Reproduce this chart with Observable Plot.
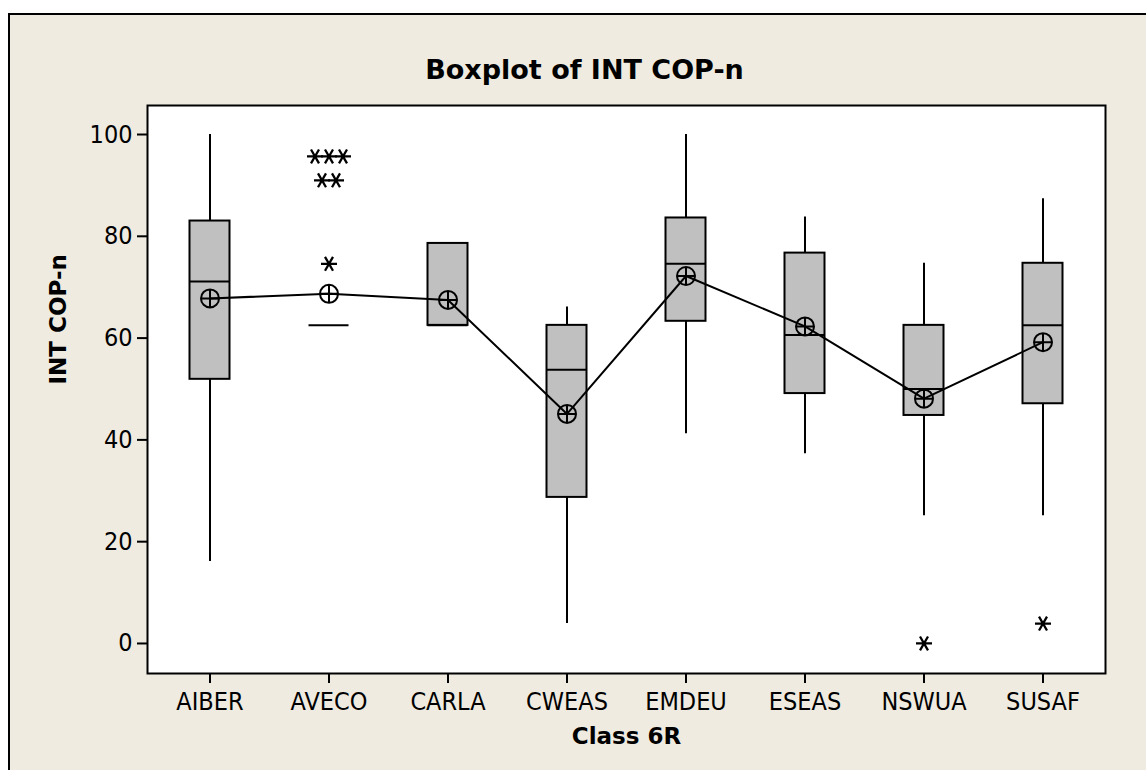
<!DOCTYPE html>
<html>
<head>
<meta charset="utf-8">
<script src="https://cdn.jsdelivr.net/npm/d3@7"></script>
<script src="https://cdn.jsdelivr.net/npm/@observablehq/plot@0.6"></script>
<style>
  html, body { margin: 0; padding: 0; width: 1146px; height: 770px; overflow: hidden; background: #ffffff; }
  #sheet {
    position: absolute; left: 8px; top: 13px; width: 1138px; height: 757px;
    box-sizing: border-box; background: #efebe1;
    border-left: 2px solid #000; border-top: 2px solid #000;
  }
  #chart { position: absolute; left: 0; top: 0; }
</style>
</head>
<body>
<div id="sheet"></div>
<div id="chart"></div>
<script>
// Five-number summaries and means of INT COP-n for each Class 6R group
const classes     = ["AIBER", "AVECO", "CARLA", "CWEAS", "EMDEU", "ESEAS", "NSWUA", "SUSAF"];
const whiskerLow  = [16.1, 62.5, 62.5,  3.9, 41.2, 37.3, 25.1, 25.1];
const q1          = [51.9, 62.5, 62.5, 28.7, 63.3, 49.1, 44.8, 47.1];
const medians     = [71.1, 62.5, 62.5, 53.8, 74.6, 60.6, 50.0, 62.5];
const q3          = [83.0, 62.5, 78.6, 62.5, 83.6, 76.7, 62.5, 74.7];
const whiskerHigh = [100,  62.5, 78.6, 66.1, 100,  83.8, 74.7, 87.4];
const means       = [67.8, 68.7, 67.5, 45.1, 72.2, 62.3, 48.1, 59.2];

// Outlying observations (one entry per observation)
const outlierClass = ["AVECO", "AVECO", "AVECO", "AVECO", "AVECO", "AVECO", "NSWUA", "SUSAF"];
const outlierValue = [95.7, 95.7, 95.7, 91.0, 91.0, 74.6, 0, 3.9];

const yTicks = [0, 20, 40, 60, 80, 100];

const summary = classes.map((c, i) => ({
  cls: c, lo: whiskerLow[i], q1: q1[i], med: medians[i], q3: q3[i], hi: whiskerHigh[i], mean: means[i]
}));

// Tied outliers are spread sideways so each one stays visible
const outliers = outlierClass.map((c, i) => ({cls: c, v: outlierValue[i]}));
const groups = d3.group(outliers, d => d.cls + "|" + d.v);
for (const g of groups.values()) {
  g.forEach((d, k) => { d.shift = (k - (g.length - 1) / 2) * 14; });
}
const shifts = Array.from(new Set(outliers.map(d => d.shift)));

// Asterisk outlier symbol: a horizontal stroke crossed by two diagonals
const star = {
  draw(ctx, size) {
    const r = Math.sqrt(size / Math.PI);
    const c = Math.cos(Math.PI / 3) * r, s = Math.sin(Math.PI / 3) * r;
    ctx.moveTo(-r, 0); ctx.lineTo(r, 0);
    ctx.moveTo(-c, -s); ctx.lineTo(c, s);
    ctx.moveTo(-c, s); ctx.lineTo(c, -s);
  }
};

// Mean symbol: circle with a cross inside
const circlePlus = {
  draw(ctx, size) {
    const r = Math.sqrt(size / Math.PI);
    ctx.moveTo(r, 0); ctx.arc(0, 0, r, 0, 2 * Math.PI);
    ctx.moveTo(-r, 0); ctx.lineTo(r, 0);
    ctx.moveTo(0, -r); ctx.lineTo(0, r);
  }
};

const boxInset = 39.5;
const tickFont = "'DejaVu Sans Condensed', 'DejaVu Sans', sans-serif";
const boldFont = "'DejaVu Sans', sans-serif";

const chart = Plot.plot({
  width: 1146,
  height: 770,
  marginLeft: 147,
  marginRight: 41,
  marginTop: 105,
  marginBottom: 97,
  style: {background: "transparent", overflow: "visible", fontFamily: tickFont, fontSize: "25px", color: "#000"},
  x: {type: "band", domain: classes, padding: 0},
  y: {domain: [-5.9, 105.7]},
  marks: [
    Plot.frame({fill: "#ffffff"}),
    Plot.ruleX(summary, {x: "cls", y1: "q3", y2: "hi", stroke: "#000", strokeWidth: 2}),
    Plot.ruleX(summary, {x: "cls", y1: "q1", y2: "lo", stroke: "#000", strokeWidth: 2}),
    Plot.barY(summary, {x: "cls", y1: "q1", y2: "q3", fill: "#c0c0c0", stroke: "#000", strokeWidth: 2,
      insetLeft: boxInset, insetRight: boxInset}),
    Plot.tickY(summary, {x: "cls", y: "med", stroke: "#000", strokeWidth: 2,
      insetLeft: boxInset, insetRight: boxInset}),
    Plot.line(summary, {x: "cls", y: "mean", stroke: "#000", strokeWidth: 2}),
    Plot.dot(summary, {x: "cls", y: "mean", r: 9, symbol: circlePlus, fill: "none", stroke: "#000", strokeWidth: 2}),
    ...shifts.map(s => Plot.dot(outliers.filter(d => d.shift === s),
      {x: "cls", y: "v", dx: s, r: 8, symbol: star, fill: "none", stroke: "#000", strokeWidth: 2.3})),
    Plot.frame({stroke: "#000", strokeWidth: 2}),
    Plot.axisY({ticks: yTicks, tickSize: 10, tickPadding: 5, strokeWidth: 2, label: null,
      fontSize: 25, fontFamily: tickFont}),
    Plot.axisX({tickSize: 10, tickPadding: 9, strokeWidth: 2, label: null,
      fontSize: 25, fontFamily: tickFont}),
    Plot.text(["Boxplot of INT COP-n"], {text: d => d, frameAnchor: "top", dx: -42, dy: -27,
      lineAnchor: "bottom", fontSize: 27, fontWeight: "bold", fontFamily: boldFont, fill: "#000"}),
    Plot.text(["Class 6R"], {text: d => d, frameAnchor: "bottom", dy: 70,
      lineAnchor: "bottom", fontSize: 23, fontWeight: "bold", fontFamily: boldFont, fill: "#000"}),
    Plot.text(["INT COP-n"], {text: d => d, frameAnchor: "left", dx: -89, dy: -5, rotate: -90,
      fontSize: 23, fontWeight: "bold", fontFamily: boldFont, fill: "#000"})
  ]
});

document.getElementById("chart").append(chart);
</script>
</body>
</html>
